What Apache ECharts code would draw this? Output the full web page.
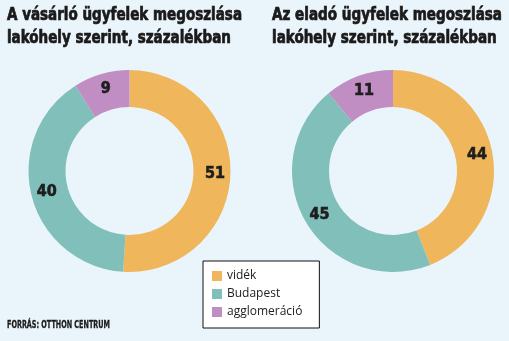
<!DOCTYPE html>
<html><head><meta charset="utf-8">
<script src="https://cdn.jsdelivr.net/npm/echarts@6/dist/echarts.min.js"></script>
<style>html,body{margin:0;padding:0;background:#eaf5fb;}#c{width:509px;height:341px;}</style>
</head><body><div id="c"></div>
<script>
const categories = ['vidék', 'Budapest', 'agglomeráció'];
const buyerValues = [51, 40, 9];
const sellerValues = [44, 45, 11];
const titles = ['A vásárló ügyfelek megoszlása\nlakóhely szerint, százalékban', 'Az eladó ügyfelek megoszlása\nlakóhely szerint, százalékban'];
const source = 'FORRÁS: OTTHON CENTRUM';
const colors = ['#efb65b', '#80bfba', '#c18ec3'];

const fam = '"DejaVu Sans Condensed","DejaVu Sans",sans-serif';
const mc = document.createElement('canvas').getContext('2d');
function widthOf(txt, size) {
  mc.font = 'bold ' + size + 'px ' + fam;
  return Math.max.apply(null, txt.split('\n').map(l => mc.measureText(l).width));
}
const titleSize = 17;
const sx1 = 235 / widthOf(titles[0], titleSize);
const sx2 = 230 / widthOf(titles[1], titleSize);
const srcSize = 10;
const sx3 = 103 / widthOf(source, srcSize);

const chart = echarts.init(document.getElementById('c'), null, {renderer: 'canvas'});
function pie(center, values) {
  return {
    type: 'pie', center: center, radius: [64, 101], startAngle: 90, clockwise: true,
    avoidLabelOverlap: false, silent: true,
    label: {show: true, position: 'inside', formatter: '{c}', color: '#1e1e1e', fontFamily: fam, fontWeight: 'bold', fontSize: 16,
      textBorderColor: '#1e1e1e', textBorderWidth: 0.6},
    labelLine: {show: false},
    itemStyle: {borderWidth: 0},
    data: categories.map((n, i) => ({name: n, value: values[i], itemStyle: {color: colors[i]}}))
  };
}
function titleText(txt, x, y, sx, size, lh, sw) {
  return {type: 'text', x: x, y: y, scaleX: sx, silent: true,
    style: {text: txt, fill: '#1a1a1a', stroke: '#1a1a1a', lineWidth: sw, font: 'bold ' + size + 'px ' + fam, lineHeight: lh, verticalAlign: 'top', align: 'left'}};
}
chart.setOption({
  backgroundColor: '#eaf5fb',
  animation: false,
  graphic: [
    titleText(titles[0], 7, 4, sx1, titleSize, 23, 0.7),
    titleText(titles[1], 272, 4, sx2, titleSize, 23, 0.7),
    titleText(source, 7, 319, sx3, srcSize, 12, 0.3)
  ],
  legend: {
    orient: 'vertical', left: 203, top: 261,
    backgroundColor: '#ffffff', borderColor: '#111', borderWidth: 1,
    padding: [9, 17, 10, 9],
    icon: 'rect', itemWidth: 10, itemHeight: 10, itemGap: 6,
    selectedMode: false,
    textStyle: {fontFamily: '"Open Sans",sans-serif', fontSize: 12, color: '#222'},
    data: categories
  },
  series: [pie([129.5, 171], buyerValues), pie([393, 171], sellerValues)]
});
</script></body></html>
